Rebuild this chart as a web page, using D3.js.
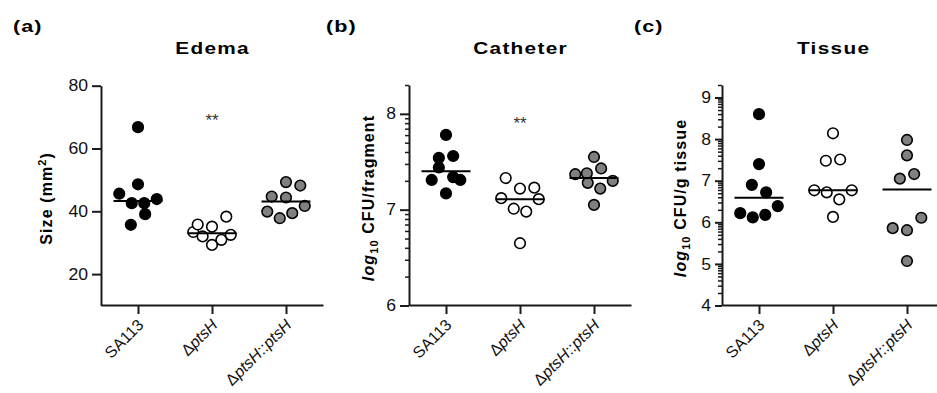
<!DOCTYPE html>
<html><head><meta charset="utf-8">
<script src="https://cdn.jsdelivr.net/npm/d3@7"></script>
<style>
body{margin:0;background:#fff;}
svg{display:block;}
text{font-family: Arial, "Liberation Sans", sans-serif;}
</style></head>
<body><svg id="chart" width="937" height="393"></svg>
<script>
// ---------------- data ----------------
const categories = ["SA113", "ΔptsH", "ΔptsH::ptsH"];
const titles = ["Edema", "Catheter", "Tissue"];
const panelLabels = ["(a)", "(b)", "(c)"];
const significance = ["**", "**", ""];   // shown above ΔptsH

// (a) Edema size (mm²)
const edemaSA113 = [35.7, 39.1, 45.6, 42.6, 42.6, 43.9, 48.6, 66.8];
const edemaDptsH = [33.4, 32.0, 29.3, 30.9, 32.5, 35.8, 35.1, 38.3];
const edemaComp  = [39.9, 37.8, 39.4, 41.7, 44.7, 44.4, 48.2, 49.3];
const edemaMedians = [43.3, 33.0, 43.1];
// (b) Catheter log10 CFU/fragment
const cathSA113 = [7.31, 7.17, 7.31, 7.44, 7.34, 7.54, 7.56, 7.78];
const cathDptsH = [6.65, 7.12, 7.01, 6.98, 7.11, 7.33, 7.22, 7.23];
const cathComp  = [7.05, 7.37, 7.28, 7.22, 7.30, 7.38, 7.43, 7.55];
const cathMedians = [7.40, 7.11, 7.33];
// (c) Tissue log10 CFU/g tissue
const tisSA113 = [6.22, 6.12, 6.18, 6.39, 6.90, 6.72, 7.40, 8.60];
const tisDptsH = [6.13, 6.77, 6.72, 6.55, 6.77, 7.48, 7.51, 8.14];
const tisComp  = [5.07, 5.86, 5.81, 6.11, 7.05, 7.16, 7.61, 7.98];
const tisMedians = [6.59, 6.77, 6.79];

const yTicksA = [20, 40, 60, 80];
const yTicksB = [6, 7, 8];
const yTicksC = [4, 5, 6, 7, 8, 9];
const yDomainA = [10, 80];
const yDomainB = [6, Math.log10(2e8)];
const yDomainC = [4, Math.log10(2e9)];

// ---------------- layout ----------------
const svg = d3.select("#chart");
const plotW = 222, yBottom = 305;
const R = 5.3, ROW_T = 14.5, MAX_SP = 14.3, ROW_W = 37.5, MED_HALF = 24.5;
const fills = ["#000000", "#ffffff", "#808080"];
const AXIS_COL = "#1a1a1a";
const STRETCH = 1.3;

const panels = [
  {x0: 101, top: 85.7, domain: yDomainA, ticks: yTicksA, log: false, tickLen: 9,
   series: [edemaSA113, edemaDptsH, edemaComp], medians: edemaMedians,
   ylab: "size", ylabX: 51.5, labX: 13, sigBase: 126},
  {x0: 409, top: 85, domain: yDomainB, ticks: yTicksB, log: true, tickLen: 9,
   series: [cathSA113, cathDptsH, cathComp], medians: cathMedians,
   ylab: "fragment", ylabX: 373.5, labX: 326, sigBase: 129},
  {x0: 722, top: 85, domain: yDomainC, ticks: yTicksC, log: true, tickLen: 7,
   series: [tisSA113, tisDptsH, tisComp], medians: tisMedians,
   ylab: "tissue", ylabX: 685.5, labX: 634, sigBase: 0}
];

function swarmOffsets(vals, y) {
  const order = d3.range(vals.length).sort((a, b) => vals[a] - vals[b] || a - b);
  const offs = new Array(vals.length).fill(0);
  let i = 0;
  while (i < order.length) {
    const y0 = y(vals[order[i]]);
    const grp = [order[i]];
    let j = i + 1;
    while (j < order.length && (y0 - y(vals[order[j]])) <= ROW_T) { grp.push(order[j]); j++; }
    grp.sort((a, b) => a - b);
    const n = grp.length;
    const sp = n > 1 ? Math.min(MAX_SP, ROW_W / (n - 1)) : 0;
    grp.forEach((idx, k) => { offs[idx] = (k - (n - 1) / 2) * sp; });
    i = j;
  }
  return offs;
}

function addItalicParts(sel, str) {
  str.split(/(ptsH)/).filter(s => s.length).forEach(s => {
    sel.append("tspan").attr("font-style", s === "ptsH" ? "italic" : "normal").text(s);
  });
}

panels.forEach((p, pi) => {
  const g = svg.append("g");
  const x = d3.scalePoint().domain(categories).range([p.x0, p.x0 + plotW]).padding(0.5);
  const y = d3.scaleLinear().domain(p.domain).range([yBottom + 0.5, p.top]);

  // panel label
  svg.append("text").attr("transform", `translate(${p.labX},32) scale(${STRETCH + 0.05},1)`)
    .attr("font-size", 16).attr("font-weight", "bold").attr("letter-spacing", 0.8)
    .text(panelLabels[pi]);
  // title
  svg.append("text").attr("transform", `translate(${x(categories[1]) + 0.6},54) scale(${STRETCH},1)`)
    .attr("text-anchor", "middle").attr("font-size", 16).attr("font-weight", "bold")
    .attr("letter-spacing", 1.0).text(titles[pi]);

  // minor log ticks
  if (p.log) {
    const minor = [];
    for (let d = Math.floor(p.domain[0]); d <= Math.ceil(p.domain[1]); d++) {
      for (let k = 2; k <= 9; k++) {
        const v = d + Math.log10(k);
        if (v > p.domain[0] && v <= p.domain[1] + 1e-9) minor.push(v);
      }
    }
    const ma = g.append("g").attr("transform", `translate(${p.x0},0)`)
      .call(d3.axisLeft(y).tickValues(minor).tickSize(4).tickFormat(""));
    ma.select(".domain").remove();
    ma.selectAll("line").attr("stroke", AXIS_COL).attr("stroke-width", 1.5);
  }
  // y axis
  const ya = g.append("g").attr("transform", `translate(${p.x0},0)`)
    .call(d3.axisLeft(y).tickValues(p.ticks).tickSize(p.tickLen).tickSizeOuter(0).tickPadding(4).tickFormat(d3.format("d")));
  ya.select(".domain").attr("stroke", AXIS_COL).attr("stroke-width", 2);
  ya.selectAll(".tick line").attr("stroke", AXIS_COL).attr("stroke-width", 2);
  ya.selectAll(".tick text").attr("font-size", 16).attr("fill", "#111")
    .attr("font-family", "Arial, 'Liberation Sans', sans-serif")
    .attr("transform", "scale(1.1,1)").attr("x", -(p.tickLen + 4) / 1.1);

  // x axis
  const xa = g.append("g").attr("transform", `translate(0,${yBottom})`)
    .call(d3.axisBottom(x).tickSize(9).tickSizeOuter(0).tickFormat(""));
  xa.select(".domain").attr("stroke", AXIS_COL).attr("stroke-width", 2);
  xa.selectAll(".tick line").attr("stroke", AXIS_COL).attr("stroke-width", 2);
  xa.selectAll(".tick").each(function(d) {
    const t = d3.select(this).append("text")
      .attr("transform", "translate(6,21) rotate(-45)")
      .attr("text-anchor", "end").attr("font-size", 16).attr("fill", "#111")
      .attr("font-family", "Arial, 'Liberation Sans', sans-serif");
    addItalicParts(t, d);
  });

  // y label
  const cy = (yBottom + p.top) / 2 + 3;
  const yl = svg.append("text")
    .attr("transform", `translate(${p.ylabX},${cy}) rotate(-90)`)
    .attr("text-anchor", "middle").attr("font-size", 16).attr("font-weight", "bold")
    .attr("letter-spacing", 1.1);
  if (p.ylab === "size") {
    yl.append("tspan").text("Size (mm");
    yl.append("tspan").attr("font-size", 11).attr("dy", -6).text("2");
    yl.append("tspan").attr("dy", 6).text(")");
  } else {
    yl.append("tspan").attr("font-style", "italic").text("log");
    yl.append("tspan").attr("font-size", 11).attr("dy", 4).text("10");
    yl.append("tspan").attr("dy", -4).text(p.ylab === "fragment" ? " CFU/fragment" : " CFU/g tissue");
  }

  // points
  p.series.forEach((vals, ci) => {
    const offs = swarmOffsets(vals, y);
    g.append("g").selectAll("circle").data(vals).join("circle")
      .attr("cx", (v, i) => x(categories[ci]) + offs[i])
      .attr("cy", v => y(v))
      .attr("r", R)
      .attr("fill", fills[ci]).attr("stroke", "#000").attr("stroke-width", 1.6);
  });
  // median lines
  g.append("g").selectAll("line").data(p.medians).join("line")
    .attr("x1", (m, ci) => x(categories[ci]) - MED_HALF)
    .attr("x2", (m, ci) => x(categories[ci]) + MED_HALF)
    .attr("y1", m => y(m)).attr("y2", m => y(m))
    .attr("stroke", "#000").attr("stroke-width", 2);

  // significance
  if (significance[pi]) {
    svg.append("text").attr("x", x(categories[1])).attr("y", p.sigBase)
      .attr("text-anchor", "middle").attr("font-size", 17).attr("fill", "#333")
      .text(significance[pi]);
  }
});
</script>
</body></html>
